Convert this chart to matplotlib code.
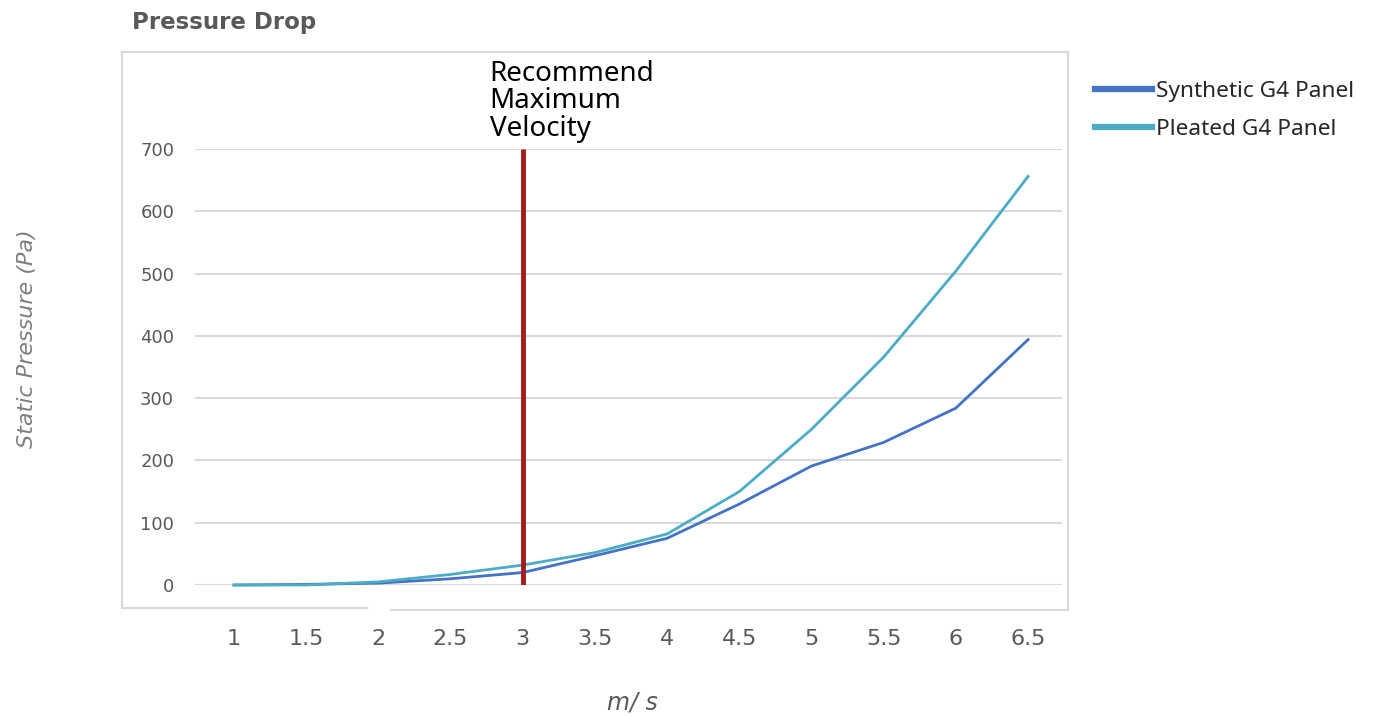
import numpy as np
import matplotlib.pyplot as plt
from matplotlib.lines import Line2D

velocity = [1, 1.5, 2, 2.5, 3, 3.5, 4, 4.5, 5, 5.5, 6, 6.5]
synthetic = [0, 1, 3, 10, 20, 47, 75, 130, 191, 229, 284, 394]
pleated = [0, 0, 5, 17, 32, 52, 82, 150, 250, 366, 504, 656]
x_ticks = [1, 1.5, 2, 2.5, 3, 3.5, 4, 4.5, 5, 5.5, 6, 6.5]
x_labels = ["1", "1.5", "2", "2.5", "3", "3.5", "4", "4.5", "5", "5.5", "6", "6.5"]
y_ticks = [0, 100, 200, 300, 400, 500, 600, 700]
recommend_x = 3

W, H = 1374, 718
fig = plt.figure(figsize=(W / 100, H / 100), dpi=100)

# outer plot-area frame (Excel style), bottom edge has a small break
frame = "#d9d9d9"
def fline(x0, y0, x1, y1):
    fig.lines.append(Line2D([x0 / W, x1 / W], [1 - y0 / H, 1 - y1 / H],
                            transform=fig.transFigure, color=frame, linewidth=1.5))
fline(122, 52, 1068, 52)
fline(122, 52, 122, 608)
fline(1068, 52, 1068, 608)
fline(122, 608, 367, 608)
fline(391, 610, 1068, 610)

ax = fig.add_axes([195 / W, 1 - 585 / H, 867 / W, 436 / H])
ax.set_xlim(0.73, 6.735)
ax.set_ylim(0, 700)

for s in ax.spines.values():
    s.set_visible(False)
ax.set_yticks(y_ticks)
ax.yaxis.grid(True, color="#d9d9d9", linewidth=1.5)
ax.set_axisbelow(True)
ax.tick_params(axis="y", length=0, pad=15, labelsize=13, labelcolor="#595959")
ax.set_xticks(x_ticks)
ax.set_xticklabels(x_labels)
ax.tick_params(axis="x", length=0, pad=32, labelsize=16, labelcolor="#595959")

ax.plot(velocity, synthetic, color="#4472c4", linewidth=2, label="Synthetic G4 Panel",
        clip_on=False)
ax.plot(velocity, pleated, color="#4bacc6", linewidth=2, label="Pleated G4 Panel",
        clip_on=False)
ax.plot([recommend_x, recommend_x], [0, 700], color="#a31d1d", linewidth=3.5,
        solid_capstyle="butt", zorder=5)

ax.text(2.77, 710, "Recommend\nMaximum\nVelocity", fontsize=20, family="Noto Sans",
        color="black", ha="left", va="bottom", linespacing=0.98)

leg = fig.legend(*ax.get_legend_handles_labels(), loc="upper left",
                 bbox_to_anchor=(1075 / W, 1 - 61 / H), frameon=False,
                 handlelength=2.5, labelspacing=0.72, handletextpad=0.2,
                 prop={"family": "Noto Sans", "size": 16.3})
for line in leg.get_lines():
    line.set_linewidth(4.5)
for t in leg.get_texts():
    t.set_color("#262626")

fig.text(132 / W, 1 - 22 / H, "Pressure Drop", fontsize=16.5, fontweight="bold",
         color="#595959", ha="left", va="center")
fig.text(27 / W, 1 - 339 / H, "Static Pressure (Pa)", fontsize=16, style="italic",
         color="#7f7f7f", rotation=90, ha="center", va="center")
fig.text(632 / W, 1 - 703 / H, "m/ s", fontsize=17, style="italic",
         color="#595959", ha="center", va="center")

fig.savefig("out.png", dpi=100)
